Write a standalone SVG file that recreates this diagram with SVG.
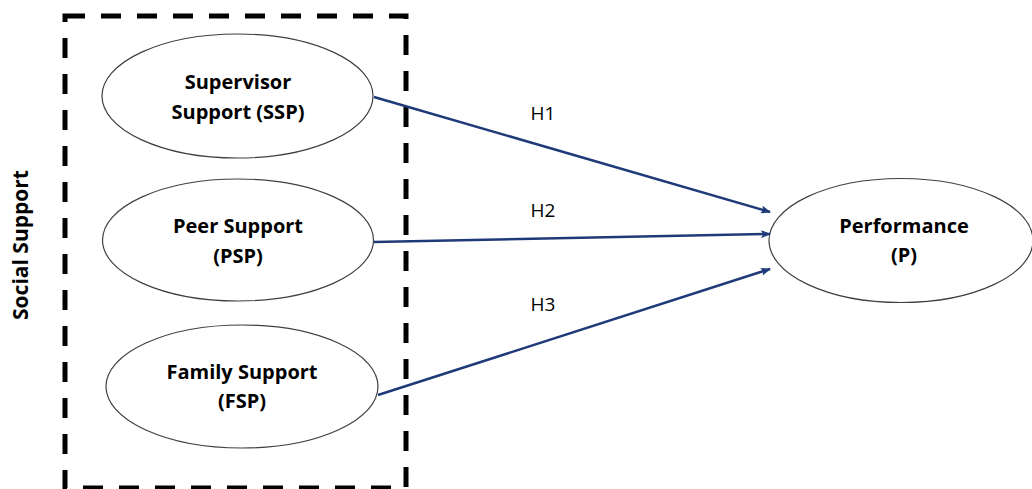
<svg xmlns="http://www.w3.org/2000/svg" width="1032" height="489" viewBox="0 0 1032 489">
<style>
.node{fill:#fff;stroke:#404040;stroke-width:1.2}
.lbl{font-family:"Open Sans","Liberation Sans",sans-serif;font-weight:bold;font-size:20px;fill:#000;text-anchor:middle}
.h{font-family:"Open Sans","Liberation Sans",sans-serif;font-size:19px;fill:#000;text-anchor:middle}
.edge{stroke:#1f3a78;stroke-width:2.5;fill:none}
</style>
<defs>
<marker id="ah" markerWidth="10" markerHeight="8" refX="9" refY="4" orient="auto" markerUnits="userSpaceOnUse">
<path d="M0,0 L10,4 L0,8 L2,4 Z" fill="#1f3a78"/>
</marker>
</defs>
<rect width="1032" height="489" fill="#fff"/>
<g id="group-box">
<rect x="65" y="16" width="341" height="472" fill="none" stroke="#000" stroke-width="5" stroke-dasharray="20,16"/>
<text class="lbl" transform="translate(28,245) rotate(-90)" style="font-size:21px">Social Support</text>
</g>
<g id="node-ssp">
<ellipse class="node" cx="237.5" cy="96" rx="135.5" ry="62"/>
<text class="lbl" x="238" y="89">Supervisor</text>
<text class="lbl" x="238" y="119">Support (SSP)</text>
</g>
<g id="node-psp">
<ellipse class="node" cx="238" cy="240" rx="135.5" ry="61"/>
<text class="lbl" x="238" y="233">Peer Support</text>
<text class="lbl" x="238" y="263">(PSP)</text>
</g>
<g id="node-fsp">
<ellipse class="node" cx="242" cy="386.5" rx="136" ry="61.5"/>
<text class="lbl" x="242" y="379">Family Support</text>
<text class="lbl" x="242" y="408">(FSP)</text>
</g>
<g id="node-p">
<ellipse class="node" cx="901" cy="240.5" rx="132" ry="62"/>
<text class="lbl" x="904" y="233">Performance</text>
<text class="lbl" x="904" y="262">(P)</text>
</g>
<g id="connectors">
<line class="edge" x1="374" y1="97" x2="770" y2="212" marker-end="url(#ah)"/>
<line class="edge" x1="374" y1="242" x2="770" y2="234" marker-end="url(#ah)"/>
<line class="edge" x1="378" y1="395" x2="770" y2="269" marker-end="url(#ah)"/>
<text class="h" x="543" y="120">H1</text>
<text class="h" x="543" y="217">H2</text>
<text class="h" x="543" y="311">H3</text>
</g>
</svg>
